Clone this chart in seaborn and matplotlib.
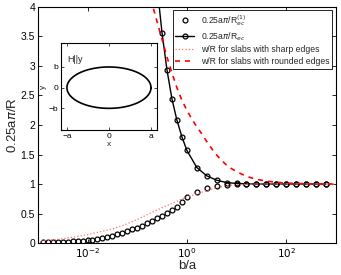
import numpy as np
import pandas as pd
import matplotlib
matplotlib.use('Agg')
import matplotlib.pyplot as plt
import seaborn as sns

# b/a exponents (log10) and values
lower_exp = [-2.9, -2.8, -2.7, -2.6, -2.5, -2.4, -2.3, -2.2, -2.1, -2.0,
             -1.9, -1.8, -1.7, -1.6, -1.5, -1.4, -1.3, -1.2, -1.1, -1.0,
             -0.9, -0.8, -0.7, -0.6, -0.5, -0.4, -0.3, -0.2, -0.1, 0.0,
             0.2, 0.4, 0.6, 0.8, 1.0, 1.2, 1.4, 1.6, 1.8, 2.0, 2.2, 2.4, 2.6, 2.8]
lower_val = [0.012, 0.014, 0.017, 0.020, 0.023, 0.027, 0.031, 0.036, 0.042, 0.050,
             0.058, 0.068, 0.080, 0.097, 0.118, 0.146, 0.175, 0.203, 0.232, 0.262,
             0.296, 0.334, 0.376, 0.418, 0.460, 0.506, 0.560, 0.618, 0.690, 0.785,
             0.860, 0.925, 0.966, 0.990, 0.998, 1.0, 1.0, 1.0, 1.0, 1.0, 1.0, 1.0, 1.0, 1.0]

upper_exp = [-0.6, -0.5, -0.4, -0.3, -0.2, -0.1, 0.0,
             0.2, 0.4, 0.6, 0.8, 1.0, 1.2, 1.4, 1.6, 1.8, 2.0, 2.2, 2.4, 2.6, 2.8]
upper_val = [4.35, 3.56, 2.93, 2.44, 2.08, 1.80, 1.57,
             1.28, 1.14, 1.065, 1.025, 1.01, 1.004, 1.0, 1.0, 1.0, 1.0, 1.0, 1.0, 1.0, 1.0]

sharp_exp = [-3.0, -2.75, -2.5, -2.25, -2.0, -1.75, -1.5, -1.25, -1.0, -0.75, -0.5, -0.25,
             0.0, 0.2, 0.4, 0.6, 0.8, 1.0, 1.25, 1.5, 2.0, 3.0]
sharp_val = [0.04, 0.05, 0.075, 0.105, 0.145, 0.19, 0.24, 0.31, 0.40, 0.50, 0.60, 0.69,
             0.785, 0.83, 0.89, 0.94, 0.975, 0.99, 0.998, 1.0, 1.0, 1.0]

round_exp = [-0.8, -0.7, -0.6, -0.5, -0.4, -0.3, -0.2, -0.1, 0.0, 0.1, 0.2, 0.3, 0.4,
             0.5, 0.6, 0.7, 0.8, 0.9, 1.0, 1.2, 1.4, 1.6, 1.8, 2.0, 2.5, 3.0]
round_val = [4.6, 4.05, 3.75, 3.45, 3.15, 2.88, 2.63, 2.42, 2.25, 2.10, 1.97, 1.85, 1.72,
             1.60, 1.49, 1.40, 1.32, 1.26, 1.21, 1.13, 1.08, 1.05, 1.03, 1.015, 1.003, 1.0]

lower = pd.DataFrame({'ba': 10.0 ** np.array(lower_exp), 'v': lower_val})
upper = pd.DataFrame({'ba': 10.0 ** np.array(upper_exp), 'v': upper_val})
sharp = pd.DataFrame({'ba': 10.0 ** np.array(sharp_exp), 'v': sharp_val})
rounded = pd.DataFrame({'ba': 10.0 ** np.array(round_exp), 'v': round_val})

sns.set_theme(style='ticks')
plt.rcParams['font.family'] = ['Liberation Sans', 'DejaVu Sans']
plt.rcParams['xtick.direction'] = 'in'
plt.rcParams['ytick.direction'] = 'in'

fig = plt.figure(figsize=(3.41, 2.75), dpi=100)
ax = fig.add_axes([0.111, 0.116, 0.874, 0.859])

mk = dict(marker='o', markersize=3.5, markerfacecolor='none',
          markeredgecolor='black', markeredgewidth=0.9)

sns.lineplot(data=lower, x='ba', y='v', ax=ax, color='black', linestyle='',
             label=r'0.25a$\pi$/R$_{ec}^{(1)}$', sort=False, **mk)
sns.lineplot(data=upper, x='ba', y='v', ax=ax, color='black', linewidth=1.0,
             label=r'0.25a$\pi$/R$_{ec}$', sort=False, **mk)
sns.lineplot(data=sharp, x='ba', y='v', ax=ax, color='#ff6f6f', linestyle=':',
             linewidth=0.9, label='w/R for slabs with sharp edges', sort=False)
sns.lineplot(data=rounded, x='ba', y='v', ax=ax, color='red', linestyle=(0, (3, 3)),
             linewidth=1.2, label='w/R for slabs with rounded edges', sort=False)

ax.set_xscale('log')
ax.set_xlim(1e-3, 1e3)
ax.set_ylim(0, 4)
ax.set_xticks([1e-2, 1e0, 1e2])
ax.set_xticklabels([r'$10^{-2}$', r'$10^{0}$', r'$10^{2}$'])
ax.xaxis.set_minor_locator(matplotlib.ticker.NullLocator())
ax.set_yticks([0, 0.5, 1, 1.5, 2, 2.5, 3, 3.5, 4])
ax.set_yticklabels(['0', '0.5', '1', '1.5', '2', '2.5', '3', '3.5', '4'])
ax.tick_params(axis='both', which='both', top=True, right=True, length=3,
               width=0.6, labelsize=7.5, pad=2, colors='black')
for s in ax.spines.values():
    s.set_linewidth(0.8)
    s.set_color('black')
ax.set_xlabel('b/a', fontsize=9.5, labelpad=0)
ax.set_ylabel(r'0.25a$\pi$/R', fontsize=9.5, labelpad=1)

leg = ax.legend(loc='upper right', fontsize=6.2, frameon=True, fancybox=False,
                edgecolor='black', framealpha=1, handlelength=2.2, handletextpad=0.8,
                borderaxespad=0.4, borderpad=0.3, labelspacing=0.3)
leg.get_frame().set_linewidth(0.6)

# inset with the ellipse
ell_a = 1.0
ell_b = 1.0
t = np.linspace(0, 2 * np.pi, 200)
ins = fig.add_axes([0.179, 0.527, 0.281, 0.316])
ins.plot(ell_a * np.cos(t), ell_b * np.sin(t), color='black', linewidth=1.2)
ins.set_xlim(-1.14, 1.14)
ins.set_ylim(-2.05, 2.15)
ins.set_xticks([-1, 0, 1])
ins.set_xticklabels(['\u2212a', '0', 'a'])
ins.set_yticks([-1, 0, 1])
ins.set_yticklabels(['\u2212b', '0', 'b'])
ins.tick_params(axis='both', top=True, right=True, length=2, width=0.5,
                labelsize=6, pad=2, colors='black')
for s in ins.spines.values():
    s.set_linewidth(0.8)
    s.set_color('black')
ins.set_xlabel('x', fontsize=6, labelpad=1)
ins.set_ylabel('y', fontsize=6, labelpad=1)
ins.text(-1.0, 1.25, 'H||y', fontsize=6.5)

fig.savefig('out.png', dpi=100)
